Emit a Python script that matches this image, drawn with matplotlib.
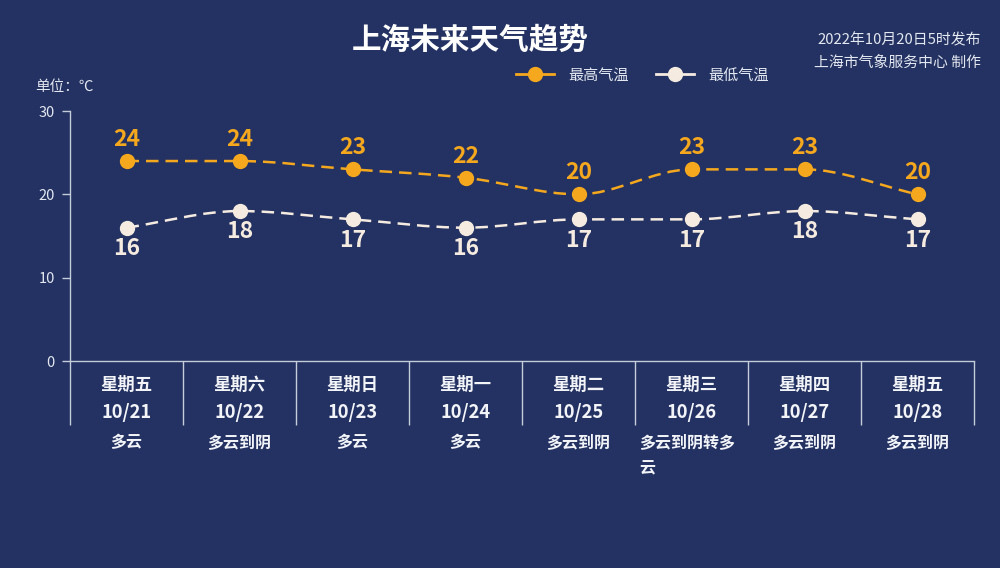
#!/usr/bin/env python3

import matplotlib
matplotlib.use('Agg')
import matplotlib.pyplot as plt
from matplotlib.path import Path
from matplotlib.patches import PathPatch
from matplotlib.lines import Line2D
import matplotlib.transforms as mtransforms

plt.rcParams['font.family'] = ['Noto Sans CJK SC', 'DejaVu Sans']

weekdays = ['星期五', '星期六', '星期日', '星期一', '星期二', '星期三', '星期四', '星期五']
dates = ['10/21', '10/22', '10/23', '10/24', '10/25', '10/26', '10/27', '10/28']
weather = ['多云', '多云到阴', '多云', '多云', '多云到阴', '多云到阴转多云', '多云到阴', '多云到阴']
temp_high = [24, 24, 23, 22, 20, 23, 23, 20]
temp_low = [16, 18, 17, 16, 17, 17, 18, 17]

BG = '#233262'
AXIS = '#c5ccda'
ORANGE = '#f5a81e'
CREAM = '#f5ebe0'
TEXT = '#f2f4f8'


def smooth_path(xs, ys):
    # monotone-ish hermite curve: flat tangent at peaks/valleys
    n = len(xs)
    m = []
    for i in range(n):
        if i == 0:
            m.append((ys[1] - ys[0]) / (xs[1] - xs[0]))
        elif i == n - 1:
            m.append((ys[-1] - ys[-2]) / (xs[-1] - xs[-2]))
        elif (ys[i] - ys[i - 1]) * (ys[i + 1] - ys[i]) <= 0:
            m.append(0.0)
        else:
            m.append((ys[i + 1] - ys[i - 1]) / (xs[i + 1] - xs[i - 1]))
    verts = [(xs[0], ys[0])]
    codes = [Path.MOVETO]
    for i in range(n - 1):
        dx = (xs[i + 1] - xs[i]) / 3
        verts += [(xs[i] + dx, ys[i] + m[i] * dx),
                  (xs[i + 1] - dx, ys[i + 1] - m[i + 1] * dx),
                  (xs[i + 1], ys[i + 1])]
        codes += [Path.CURVE4] * 3
    return Path(verts, codes)


fig = plt.figure(figsize=(10, 5.68), dpi=100, facecolor=BG)
ax = fig.add_axes([0.07, 0.3644, 0.904, 0.4401], facecolor=BG)

x = list(range(len(dates)))

for vals, col in [(temp_high, ORANGE), (temp_low, CREAM)]:
    patch = PathPatch(smooth_path(x, vals), facecolor='none', edgecolor=col,
                      lw=1.8, linestyle=(0, (5, 2.8)), zorder=2)
    ax.add_patch(patch)
    ax.plot(x, vals, linestyle='none', marker='o', markersize=10,
            color=col, zorder=3)

for xi, v in zip(x, temp_high):
    ax.annotate(str(v), (xi, v), xytext=(0, 15.5), textcoords='offset points',
                ha='center', va='center', color=ORANGE, fontsize=16.5,
                fontweight='bold')
for xi, v in zip(x, temp_low):
    ax.annotate(str(v), (xi, v), xytext=(0, -15), textcoords='offset points',
                ha='center', va='center', color=CREAM, fontsize=16.5,
                fontweight='bold')

ax.set_xlim(-0.5, len(dates) - 0.5)
ax.set_ylim(0, 30)
ax.set_yticks([0, 10, 20, 30])
ax.set_xticks([i - 0.5 for i in range(len(dates) + 1)])
ax.set_xticklabels([])
ax.tick_params(axis='x', direction='out', length=46, width=1, color=AXIS)
ax.tick_params(axis='y', direction='out', length=6, width=1, color=AXIS,
               labelcolor='#e3e7ef', labelsize=10.5, pad=5)

for s in ['top', 'right']:
    ax.spines[s].set_visible(False)
for s in ['left', 'bottom']:
    ax.spines[s].set_color(AXIS)
    ax.spines[s].set_linewidth(1)

trans = mtransforms.blended_transform_factory(ax.transData, ax.transAxes)
for xi, wd, dt, wt in zip(x, weekdays, dates, weather):
    ax.text(xi, -0.096, wd, transform=trans, ha='center', va='center',
            color=TEXT, fontsize=12.5, fontweight='bold')
    ax.text(xi, -0.204, dt, transform=trans, ha='center', va='center',
            color=TEXT, fontsize=13.2, fontweight='bold')
    if len(wt) > 6:
        ax.text(xi - 0.46, -0.324, wt[:6], transform=trans, ha='left', va='center',
                color=TEXT, fontsize=11.5, fontweight='bold')
        ax.text(xi - 0.46, -0.428, wt[6:], transform=trans, ha='left', va='center',
                color=TEXT, fontsize=11.5, fontweight='bold')
    else:
        ax.text(xi, -0.324, wt, transform=trans, ha='center', va='center',
                color=TEXT, fontsize=11.5, fontweight='bold')

fig.text(0.47, 1 - 40 / 568, '上海未来天气趋势', ha='center', va='center',
         color='white', fontsize=21.3, fontweight='bold')
fig.text(0.981, 1 - 40 / 568, '2022年10月20日5时发布', ha='right', va='center',
         color='#e3e7ef', fontsize=10.7)
fig.text(0.981, 1 - 63 / 568, '上海市气象服务中心 制作', ha='right', va='center',
         color='#e3e7ef', fontsize=10.7)
fig.text(0.035, 1 - 87 / 568, '单位：℃', ha='left', va='center',
         color='#e3e7ef', fontsize=10.5)

handles = [
    Line2D([], [], color=ORANGE, lw=2, marker='o', markersize=10),
    Line2D([], [], color=CREAM, lw=2, marker='o', markersize=10),
]
fig.legend(handles, ['最高气温', '最低气温'], loc='center',
           bbox_to_anchor=(0.6425, 1 - 75 / 568), ncol=2, frameon=False,
           handlelength=2.5, handletextpad=1.0, columnspacing=1.75,
           labelcolor='#e3e7ef', fontsize=10.9)

fig.savefig('out.png', dpi=100, facecolor=BG)
